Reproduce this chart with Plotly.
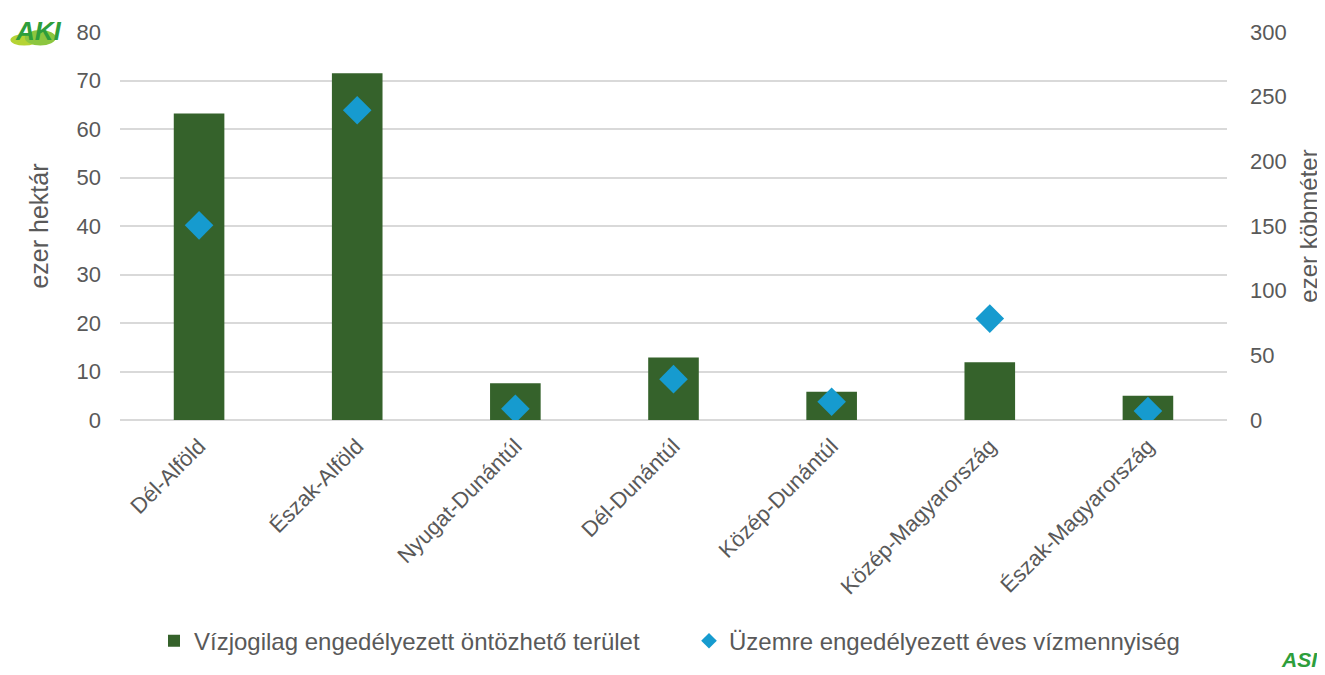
import plotly.graph_objects as go

# ─── Data ────────────────────────────────────────────────────────────────────
regions = [
    "Dél-Alföld", "Észak-Alföld", "Nyugat-Dunántúl", "Dél-Dunántúl",
    "Közép-Dunántúl", "Közép-Magyarország", "Észak-Magyarország",
]
area_kha = [63.2, 71.5, 7.6, 12.9, 5.8, 11.9, 5.0]          # ezer hektár
water_km3 = [150.5, 239.5, 8.7, 31.6, 14.1, 78.4, 6.9]       # ezer köbméter

BAR_GREEN = "#35622B"
DIAMOND_BLUE = "#169BCF"
TEXT_GREY = "#595959"
LOGO_GREEN = "#2E9E3B"
FONT = "Arial, Liberation Sans, sans-serif"

fig = go.Figure()
fig.add_trace(go.Bar(
    x=regions, y=area_kha,
    name="Vízjogilag engedélyezett öntözhető terület",
    marker=dict(color=BAR_GREEN, line=dict(width=0)),
    width=0.32,
))
fig.add_trace(go.Scatter(
    x=regions, y=water_km3, yaxis="y2", mode="markers",
    name="Üzemre engedélyezett éves vízmennyiség",
    marker=dict(symbol="diamond", size=22, color=DIAMOND_BLUE),
))

# page body keeps an 8px margin, so the figure is 8px smaller than the window
fig.update_layout(
    width=1317, height=667,
    margin=dict(l=112, r=98, t=24, b=251),
    paper_bgcolor="white", plot_bgcolor="white",
    font=dict(family=FONT, size=22, color=TEXT_GREY),
    showlegend=True,
    legend=dict(
        orientation="h", x=0.514, xanchor="center", y=-0.57, yanchor="middle",
        font=dict(size=24, color=TEXT_GREY), itemsizing="constant",
        entrywidth=490, itemwidth=30,
    ),
    xaxis=dict(
        tickangle=-45, tickfont=dict(size=22, color=TEXT_GREY),
        showline=False, ticks="", range=[-0.5, 6.5], automargin=False,
        ticklabelstandoff=8,
    ),
    yaxis=dict(
        range=[0, 80], dtick=10, showgrid=True, gridcolor="#D9D9D9",
        gridwidth=1.5, zeroline=True, zerolinecolor="#D9D9D9",
        zerolinewidth=1.5, tickfont=dict(size=22, color=TEXT_GREY),
        ticklabelstandoff=18, automargin=False,
        title=dict(text="ezer hektár", font=dict(size=25, color=TEXT_GREY),
                   standoff=20),
    ),
    yaxis2=dict(
        overlaying="y", side="right", range=[0, 300], dtick=50,
        showgrid=False, zeroline=False, tickfont=dict(size=22, color=TEXT_GREY),
        ticklabelstandoff=22, automargin=False,
        title=dict(text="ezer köbméter", font=dict(size=24, color=TEXT_GREY),
                   standoff=14),
    ),
)

# ─── Logos (approximated as text + simple shapes) ────────────────────────────
fig.add_shape(type="circle", xref="paper", yref="paper",
              x0=-0.099, x1=-0.074, y0=0.965, y1=0.995,
              fillcolor="#B5D334", line=dict(width=0), layer="below")
fig.add_shape(type="circle", xref="paper", yref="paper",
              x0=-0.086, x1=-0.058, y0=0.965, y1=1.005,
              fillcolor="#8CC63F", line=dict(width=0), layer="below")
fig.add_annotation(
    text="<b><i>AKI</i></b>", x=-0.097, y=1.046, xref="paper", yref="paper",
    xanchor="left", yanchor="top", showarrow=False,
    font=dict(size=26, color=LOGO_GREEN, family=FONT),
)
fig.add_annotation(
    text="<b><i>ASI</i></b>", x=1.084, y=-0.617, xref="paper", yref="paper",
    xanchor="right", yanchor="middle", showarrow=False,
    font=dict(size=21, color=LOGO_GREEN, family=FONT),
)

fig.write_html("out.html")
